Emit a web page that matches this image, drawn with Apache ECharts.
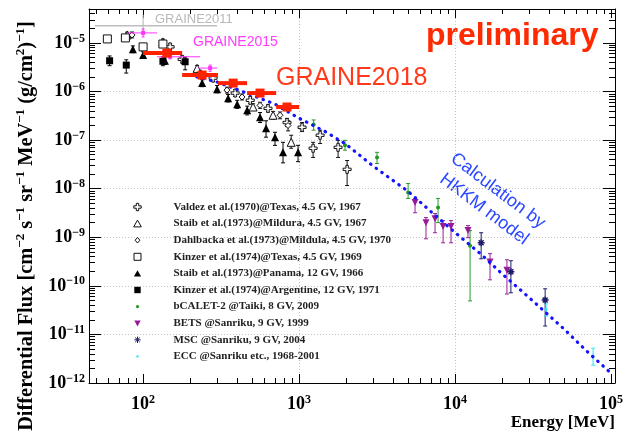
<!DOCTYPE html>
<html>
<head>
<meta charset="utf-8">
<script src="https://cdn.jsdelivr.net/npm/echarts@6/dist/echarts.min.js"></script>
<style>
  html, body { margin: 0; padding: 0; background: #fff; }
  #chart { width: 625px; height: 432px; }
</style>
</head>
<body>
<div id="chart"></div>
<script>
// ---------------- axis ranges and tick labels ----------------
const energyMin = 45, energyMax = 1.06e5;
const fluxMin = 1e-12, fluxMax = 5e-5;
const energyDecades = [100, 1000, 10000, 100000];
const fluxDecades = [1e-12, 1e-11, 1e-10, 1e-9, 1e-8, 1e-7, 1e-6, 1e-5];

// ---------------- HKKM calculation ----------------
const hkkmEnergy = [200, 300, 500, 700, 1000, 1500, 2000, 3000, 5000, 7000, 10000, 15000, 20000, 30000, 50000, 70000, 100000];
const hkkmFlux = [2.18e-6, 1.56e-6, 8.4e-7, 5.5e-7, 2.82e-7, 1.45e-7, 8.2e-8, 2.88e-8, 8.8e-9, 3.38e-9, 1.25e-9, 4.2e-10, 1.77e-10, 5.65e-11, 1.29e-11, 4.5e-12, 1.59e-12];

// ---------------- GRAINE flights ----------------
const graine2018Energy = [142, 239, 378, 562, 837];
const graine2018Flux = [6.2e-6, 2.18e-6, 1.49e-6, 9.3e-7, 4.8e-7];
const graine2018FluxLow = [5.7e-6, 2.0e-6, 1.37e-6, 8.5e-7, 4.4e-7];
const graine2018FluxHigh = [6.7e-6, 2.37e-6, 1.62e-6, 1.01e-6, 5.2e-7];
const graine2018EnergyLow = [100, 178, 302, 464, 713];
const graine2018EnergyHigh = [178, 302, 464, 713, 1000];

const graine2015Energy = [100, 149, 269];
const graine2015Flux = [1.61e-5, 5.2e-6, 3.04e-6];
const graine2015FluxLow = [1.33e-5, 4.7e-6, 2.6e-6];
const graine2015FluxHigh = [1.94e-5, 5.8e-6, 3.5e-6];
const graine2015EnergyLow = [80, 123, 225];
const graine2015EnergyHigh = [123, 232, 298];

const graine2011Energy = [100];
const graine2011Flux = [2.25e-5];
const graine2011FluxLow = [1.69e-5];
const graine2011FluxHigh = [3.8e-5];
const graine2011EnergyLow = [49];
const graine2011EnergyHigh = [298];

// ---------------- earlier measurements ----------------
const valdezEnergy = [149, 178, 281, 389, 486, 632, 837, 1045, 1230, 1364, 1778, 2032];
const valdezFlux = [8.3e-6, 4.6e-6, 1.89e-6, 9.3e-7, 6.6e-7, 4.5e-7, 2.3e-7, 1.84e-7, 6.8e-8, 1.26e-7, 7.1e-8, 2.5e-8];
const valdezFluxLow = [7.1e-6, 3.9e-6, 1.6e-6, 7.9e-7, 5.6e-7, 3.8e-7, 1.9e-7, 1.5e-7, 4.4e-8, 8.5e-8, 4.4e-8, 1.16e-8];
const valdezFluxHigh = [9.6e-6, 5.4e-6, 2.2e-6, 1.09e-6, 7.8e-7, 5.3e-7, 2.8e-7, 2.3e-7, 9.0e-8, 1.6e-7, 9.9e-8, 3.8e-8];

const staibMilduraEnergy = [79, 134, 222, 507, 681, 890];
const staibMilduraFlux = [1.46e-5, 1.05e-5, 3.0e-6, 4.8e-7, 3.25e-7, 9.0e-8];
const staibMilduraFluxLow = [1.28e-5, 9.2e-6, 2.6e-6, 4.1e-7, 2.7e-7, 6.8e-8];
const staibMilduraFluxHigh = [1.66e-5, 1.2e-5, 3.45e-6, 5.6e-7, 3.9e-7, 1.26e-7];

const dahlbackaEnergy = [85, 232, 345, 431, 562, 755, 850];
const dahlbackaFlux = [1.46e-5, 2.4e-6, 1.07e-6, 7.7e-7, 5.2e-7, 3.25e-7, 2.0e-7];
const dahlbackaFluxLow = [1.27e-5, 2.1e-6, 9.3e-7, 6.7e-7, 4.5e-7, 2.75e-7, 1.55e-7];
const dahlbackaFluxHigh = [1.68e-5, 2.75e-6, 1.23e-6, 8.9e-7, 6.0e-7, 3.8e-7, 2.5e-7];

const kinzerTexasEnergy = [59, 77, 100, 134];
const kinzerTexasFlux = [1.21e-5, 1.27e-5, 8.3e-6, 9.5e-6];
const kinzerTexasFluxLow = [1.1e-5, 1.15e-5, 7.4e-6, 8.5e-6];
const kinzerTexasFluxHigh = [1.33e-5, 1.4e-5, 9.3e-6, 1.06e-5];

const staibPanamaEnergy = [86, 100, 138, 239, 298, 351, 401, 465, 562, 614, 701, 789, 985];
const staibPanamaFlux = [7.4e-6, 5.65e-6, 4.3e-6, 1.49e-6, 1.12e-6, 7.3e-7, 5.5e-7, 4.1e-7, 2.96e-7, 1.75e-7, 1.14e-7, 5.6e-8, 5.6e-8];
const staibPanamaFluxLow = [6.3e-6, 4.8e-6, 3.6e-6, 1.26e-6, 9.4e-7, 6.1e-7, 4.5e-7, 3.3e-7, 2.3e-7, 1.15e-7, 7.8e-8, 3.4e-8, 3.6e-8];
const staibPanamaFluxHigh = [8.7e-6, 6.6e-6, 5.1e-6, 1.75e-6, 1.33e-6, 8.7e-7, 6.6e-7, 5.0e-7, 3.7e-7, 2.5e-7, 1.45e-7, 9.0e-8, 7.8e-8];

const kinzerArgEnergy = [61, 78, 134, 186];
const kinzerArgFlux = [4.3e-6, 3.5e-6, 4.2e-6, 4.1e-6];
const kinzerArgFluxLow = [3.4e-6, 2.4e-6, 3.4e-6, 2.8e-6];
const kinzerArgFluxHigh = [5.4e-6, 4.5e-6, 5.2e-6, 5.1e-6];

const bcaletEnergy = [1240, 1970, 3160, 5000, 7780, 12480];
const bcaletFlux = [2.1e-7, 7.8e-8, 4.4e-8, 8.3e-9, 4.1e-9, 6.7e-10];
const bcaletFluxLow = [1.6e-7, 6.2e-8, 3.3e-8, 6.3e-9, 2.0e-9, 4.9e-11];
const bcaletFluxHigh = [2.6e-7, 9.9e-8, 5.6e-8, 1.28e-8, 6.3e-9, 1.37e-9];

const betsEnergy = [5540, 6510, 7440, 8380, 9420, 12100, 16750, 21500];
const betsFlux = [5.2e-9, 2.0e-9, 2.4e-9, 1.66e-9, 1.66e-9, 1.37e-9, 3.1e-10, 2.1e-10];
const betsFluxLow = [3.2e-9, 9.3e-10, 1.24e-9, 7.7e-10, 7.7e-10, 9.8e-10, 1.33e-10, 6.8e-11];
const betsFluxHigh = [6.3e-9, 2.54e-9, 3.08e-9, 2.2e-9, 2.2e-9, 1.74e-9, 4.6e-10, 3.44e-10];

const mscEnergy = [14700, 22800, 37800];
const mscFlux = [7.7e-10, 1.95e-10, 5.1e-11];
const mscFluxLow = [3.6e-10, 7.2e-11, 1.49e-11];
const mscFluxHigh = [1.24e-9, 3.29e-10, 8.7e-11];

const eccEnergy = [38300, 76700];
const eccFlux = [3.3e-11, 3.6e-12];
const eccFluxLow = [2.4e-11, 2.33e-12];
const eccFluxHigh = [4.25e-11, 5.2e-12];

// ---------------- helpers ----------------
const SERIF = 'Liberation Serif, Times New Roman, serif';
const SANS = 'Liberation Sans, Arial, Helvetica, sans-serif';

function minorValues(lo, hi) {
  const out = [];
  for (let d = Math.floor(Math.log10(lo)); d <= Math.ceil(Math.log10(hi)); d++) {
    for (let m = 2; m <= 9; m++) {
      const v = m * Math.pow(10, d);
      if (v > lo * 1.0001 && v < hi * 0.9999) out.push(v);
    }
  }
  return out;
}
const energyMinor = minorValues(energyMin, energyMax);
const fluxMinor = minorValues(fluxMin, fluxMax);

function powerLabel(v) {
  const e = Math.round(Math.log10(v));
  return '{b|10}{s|' + (e < 0 ? '\u2212' + (-e) : e) + '}';
}
const powerRich = {
  b: { fontFamily: SERIF, fontWeight: 'bold', fontSize: 18, lineHeight: 21, color: '#000' },
  s: { fontFamily: SERIF, fontWeight: 'bold', fontSize: 12, lineHeight: 12, verticalAlign: 'top', color: '#000' }
};

function frameAxis(position, min, max, ticks, len, withLine) {
  return {
    type: 'log', logBase: 10, position: position, min: min, max: max,
    axisLine: { show: withLine, onZero: false, lineStyle: { color: '#000', width: 1 } },
    axisTick: { show: true, inside: true, length: len, customValues: ticks, lineStyle: { color: '#000', width: 1 } },
    axisLabel: { show: false },
    splitLine: { show: false },
    minorTick: { show: false }
  };
}

function errorRenderer(cfg) {
  return function (params, api) {
    const e = api.value(0), f = api.value(1);
    const lo = api.coord([e, api.value(2)]);
    const hi = api.coord([e, api.value(3)]);
    const st = { stroke: cfg.color, lineWidth: cfg.barWidth || 1 };
    const cap = cfg.cap === undefined ? 2 : cfg.cap;
    const kids = [{ type: 'line', shape: { x1: lo[0], y1: lo[1], x2: hi[0], y2: hi[1] }, style: st }];
    if (cap > 0) {
      kids.push({ type: 'line', shape: { x1: lo[0] - cap, y1: lo[1], x2: lo[0] + cap, y2: lo[1] }, style: st });
      kids.push({ type: 'line', shape: { x1: hi[0] - cap, y1: hi[1], x2: hi[0] + cap, y2: hi[1] }, style: st });
    }
    if (cfg.eLow) {
      const l = api.coord([api.value(4), f]);
      const r = api.coord([api.value(5), f]);
      kids.push({ type: 'line', shape: { x1: l[0], y1: l[1], x2: r[0], y2: r[1] },
                  style: { stroke: cfg.color, lineWidth: cfg.xBarWidth || 1 } });
    }
    return { type: 'group', children: kids };
  };
}

const series = [];
function addMeasurement(cfg) {
  series.push({
    type: 'custom', xAxisIndex: 0, yAxisIndex: 0, clip: true, silent: true, z: cfg.z || 2,
    encode: { x: 0, y: 1 },
    data: cfg.energy.map((e, i) => [e, cfg.flux[i], cfg.low[i], cfg.high[i],
      cfg.eLow ? cfg.eLow[i] : e, cfg.eHigh ? cfg.eHigh[i] : e]),
    renderItem: errorRenderer(cfg)
  });
  if (cfg.symbol) {
    series.push({
      type: 'scatter', name: cfg.name, xAxisIndex: 0, yAxisIndex: 0, z: (cfg.z || 2) + 0.5,
      symbol: cfg.symbol, symbolSize: cfg.size, symbolRotate: cfg.rotate || 0,
      itemStyle: cfg.itemStyle, silent: true,
      data: cfg.energy.map((e, i) => [e, cfg.flux[i]])
    });
  }
}

const crossSymbol = 'path://M3.5,0H6.5V3.5H10V6.5H6.5V10H3.5V6.5H0V3.5H3.5Z';
const starSymbol = 'path://M5,0V10M0,5H10M1.5,1.5L8.5,8.5M8.5,1.5L1.5,8.5';
const openStyle = { color: '#fff', borderColor: '#111', borderWidth: 1, opacity: 1 };

addMeasurement({ name: 'Valdez et al.(1970)@Texas, 4.5 GV, 1967', energy: valdezEnergy, flux: valdezFlux,
  low: valdezFluxLow, high: valdezFluxHigh, color: '#111', symbol: crossSymbol, size: 8, itemStyle: openStyle });
addMeasurement({ name: 'Staib et al.(1973)@Mildura, 4.5 GV, 1967', energy: staibMilduraEnergy, flux: staibMilduraFlux,
  low: staibMilduraFluxLow, high: staibMilduraFluxHigh, color: '#111', symbol: 'triangle', size: 8, itemStyle: openStyle });
addMeasurement({ name: 'Dahlbacka et al.(1973)@Mildula, 4.5 GV, 1970', energy: dahlbackaEnergy, flux: dahlbackaFlux,
  low: dahlbackaFluxLow, high: dahlbackaFluxHigh, color: '#111', symbol: 'diamond', size: 6, itemStyle: openStyle });
addMeasurement({ name: 'Kinzer et al.(1974)@Texas, 4.5 GV, 1969', energy: kinzerTexasEnergy, flux: kinzerTexasFlux,
  low: kinzerTexasFluxLow, high: kinzerTexasFluxHigh, color: '#111', symbol: 'rect', size: 8, itemStyle: openStyle });
addMeasurement({ name: 'Staib et al.(1973)@Panama, 12 GV, 1966', energy: staibPanamaEnergy, flux: staibPanamaFlux,
  low: staibPanamaFluxLow, high: staibPanamaFluxHigh, color: '#000', symbol: 'triangle', size: 8,
  itemStyle: { color: '#000', opacity: 1 } });
addMeasurement({ name: 'Kinzer et al.(1974)@Argentine, 12 GV, 1971', energy: kinzerArgEnergy, flux: kinzerArgFlux,
  low: kinzerArgFluxLow, high: kinzerArgFluxHigh, color: '#000', symbol: 'rect', size: 7,
  itemStyle: { color: '#000', opacity: 1 } });
addMeasurement({ name: 'bCALET-2 @Taiki, 8 GV, 2009', energy: bcaletEnergy, flux: bcaletFlux,
  low: bcaletFluxLow, high: bcaletFluxHigh, color: '#2a9a2a', symbol: 'circle', size: 4, z: 3,
  itemStyle: { color: '#1f9a1f', opacity: 1 } });
addMeasurement({ name: 'BETS @Sanriku, 9 GV, 1999', energy: betsEnergy, flux: betsFlux,
  low: betsFluxLow, high: betsFluxHigh, color: '#9a1f9a', symbol: 'triangle', size: 7, rotate: 180, z: 3,
  itemStyle: { color: '#991a99', opacity: 1 } });
addMeasurement({ name: 'MSC @Sanriku, 9 GV, 2004', energy: mscEnergy, flux: mscFlux,
  low: mscFluxLow, high: mscFluxHigh, color: '#1d1d6a', symbol: starSymbol, size: 7, z: 3,
  itemStyle: { color: '#1d1d6a', borderColor: '#1d1d6a', borderWidth: 1.5, opacity: 1 } });
addMeasurement({ name: 'ECC @Sanriku etc., 1968-2001', energy: eccEnergy, flux: eccFlux,
  low: eccFluxLow, high: eccFluxHigh, color: '#2ee6f0', symbol: 'circle', size: 3, z: 3,
  itemStyle: { color: '#2ee6f0', opacity: 1 } });

// HKKM model curve
series.push({
  type: 'line', name: 'HKKM', xAxisIndex: 0, yAxisIndex: 0, z: 4, silent: true,
  symbol: 'none', smooth: false,
  lineStyle: { color: '#1414ff', width: 3.2, type: [0.5, 6.5], cap: 'round' },
  data: hkkmEnergy.map((e, i) => [e, hkkmFlux[i]])
});

// GRAINE results
addMeasurement({ energy: graine2011Energy, flux: graine2011Flux, low: graine2011FluxLow, high: graine2011FluxHigh,
  eLow: graine2011EnergyLow, eHigh: graine2011EnergyHigh, color: '#bdbdbd', cap: 0, z: 5, barWidth: 1.2, xBarWidth: 1.5 });
addMeasurement({ name: 'GRAINE2015', energy: graine2015Energy, flux: graine2015Flux, low: graine2015FluxLow, high: graine2015FluxHigh,
  eLow: graine2015EnergyLow, eHigh: graine2015EnergyHigh, color: '#ff33ff', cap: 1.5, z: 5,
  symbol: 'rect', size: 4, itemStyle: { color: '#ff33ff', opacity: 1 } });
addMeasurement({ name: 'GRAINE2018', energy: graine2018Energy, flux: graine2018Flux, low: graine2018FluxLow, high: graine2018FluxHigh,
  eLow: graine2018EnergyLow, eHigh: graine2018EnergyHigh, color: '#ff2200', cap: 0, z: 6, barWidth: 2, xBarWidth: 4,
  symbol: 'rect', size: 9, itemStyle: { color: '#ff2200', opacity: 1 } });

// legend icons (padded so that small markers stay small)
const pad = 'M0,0M10,10';
const legendEntries = [
  { name: 'Valdez et al.(1970)@Texas, 4.5 GV, 1967', icon: 'path://' + pad + 'M3.8,1.3H6.2V3.8H8.7V6.2H6.2V8.7H3.8V6.2H1.3V3.8H3.8Z' },
  { name: 'Staib et al.(1973)@Mildura, 4.5 GV, 1967', icon: 'path://' + pad + 'M5,1.5L8.8,8.3H1.2Z' },
  { name: 'Dahlbacka et al.(1973)@Mildula, 4.5 GV, 1970', icon: 'path://' + pad + 'M5,2.2L7.4,5L5,7.8L2.6,5Z' },
  { name: 'Kinzer et al.(1974)@Texas, 4.5 GV, 1969', icon: 'path://' + pad + 'M1.5,1.5H8.5V8.5H1.5Z' },
  { name: 'Staib et al.(1973)@Panama, 12 GV, 1966', icon: 'path://' + pad + 'M5,1.8L8.6,8.2H1.4Z' },
  { name: 'Kinzer et al.(1974)@Argentine, 12 GV, 1971', icon: 'path://' + pad + 'M1.8,1.8H8.2V8.2H1.8Z' },
  { name: 'bCALET-2 @Taiki, 8 GV, 2009', icon: 'path://' + pad + 'M5,3.4A1.6,1.6,0,1,1,5,6.6A1.6,1.6,0,1,1,5,3.4Z' },
  { name: 'BETS @Sanriku, 9 GV, 1999', icon: 'path://' + pad + 'M1.8,2.2H8.2L5,8.2Z' },
  { name: 'MSC @Sanriku, 9 GV, 2004', icon: 'path://' + pad + 'M5,1.8V8.2M1.8,5H8.2M2.7,2.7L7.3,7.3M7.3,2.7L2.7,7.3' },
  { name: 'ECC @Sanriku etc., 1968-2001', icon: 'path://' + pad + 'M5,3.8A1.2,1.2,0,1,1,5,6.2A1.2,1.2,0,1,1,5,3.8Z' }
];

const yTitle = '{t|Differential Flux [cm}{s|\u22122}{t| s}{s|\u22121}{t| sr}{s|\u22121}{t| MeV}{s|\u22121}{t| (g/cm}{s|2}{t|)}{s|\u22121}{t|]}';

const chart = echarts.init(document.getElementById('chart'), null, { renderer: 'canvas' });
chart.setOption({
  animation: false,
  backgroundColor: '#fff',
  grid: { left: 89, right: 10, top: 9, bottom: 49, containLabel: false, outerBoundsMode: 'none' },
  xAxis: [
    {
      type: 'log', logBase: 10, position: 'bottom', min: energyMin, max: energyMax,
      axisLine: { show: true, onZero: false, lineStyle: { color: '#000', width: 1 } },
      axisTick: { show: true, inside: true, length: 9, customValues: energyDecades, lineStyle: { color: '#000' } },
      axisLabel: { show: true, customValues: energyDecades, margin: 11, formatter: powerLabel, rich: powerRich },
      splitLine: { show: true, showMinLine: false, showMaxLine: false, lineStyle: { color: '#c4c4c4', width: 1, type: [1, 2] } },
      minorTick: { show: false },
      name: 'Energy [MeV]', nameLocation: 'end', nameGap: 0, nameMoveOverlap: false,
      nameTextStyle: { fontFamily: SERIF, fontWeight: 'bold', fontSize: 17, color: '#000',
        align: 'right', verticalAlign: 'top', padding: [31, 0, 0, 0] }
    },
    frameAxis('bottom', energyMin, energyMax, energyMinor, 5, false),
    frameAxis('top', energyMin, energyMax, energyDecades, 9, true),
    frameAxis('top', energyMin, energyMax, energyMinor, 5, false)
  ],
  yAxis: [
    {
      type: 'log', logBase: 10, position: 'left', min: fluxMin, max: fluxMax,
      axisLine: { show: true, onZero: false, lineStyle: { color: '#000', width: 1 } },
      axisTick: { show: true, inside: true, length: 12, customValues: fluxDecades, lineStyle: { color: '#000' } },
      axisLabel: { show: true, customValues: fluxDecades, margin: 4, formatter: powerLabel, rich: powerRich },
      splitLine: { show: true, showMinLine: false, showMaxLine: false, lineStyle: { color: '#c4c4c4', width: 1, type: [1, 2] } },
      minorTick: { show: false }
    },
    frameAxis('left', fluxMin, fluxMax, fluxMinor, 6, false),
    frameAxis('right', fluxMin, fluxMax, fluxDecades, 12, true),
    frameAxis('right', fluxMin, fluxMax, fluxMinor, 6, false)
  ],
  legend: {
    orient: 'vertical', left: 132, top: 201, itemWidth: 62, itemHeight: 10, itemGap: 4.6,
    selectedMode: false, padding: 0,
    itemStyle: { borderWidth: 1 },
    textStyle: { fontFamily: SERIF, fontWeight: 'bold', fontSize: 11, lineHeight: 12, color: '#222' },
    data: legendEntries
  },
  graphic: [
    // flux axis title, read bottom to top
    { type: 'text', x: 27, y: 226, rotation: Math.PI / 2, silent: true,
      style: {
        text: yTitle, textAlign: 'center', textVerticalAlign: 'middle',
        rich: {
          t: { fontFamily: SERIF, fontWeight: 'bold', fontSize: 20.4, lineHeight: 25, fill: '#000' },
          s: { fontFamily: SERIF, fontWeight: 'bold', fontSize: 13, lineHeight: 13, verticalAlign: 'top', fill: '#000' }
        }
      } },
    { type: 'text', x: 155, y: 19, silent: true,
      style: { text: 'GRAINE2011', font: '13px ' + SANS, fill: '#b8b8b8', textAlign: 'left', textVerticalAlign: 'middle' } },
    { type: 'text', x: 193, y: 42, silent: true,
      style: { text: 'GRAINE2015', font: '14px ' + SANS, fill: '#ff3cff', textAlign: 'left', textVerticalAlign: 'middle' } },
    { type: 'text', x: 276, y: 78, silent: true,
      style: { text: 'GRAINE2018', font: '25px ' + SANS, fill: '#ff3a1a', textAlign: 'left', textVerticalAlign: 'middle' } },
    { type: 'text', x: 426, y: 36, silent: true,
      style: { text: 'preliminary', font: 'bold 32px ' + SANS, fill: '#ff2a00', textAlign: 'left', textVerticalAlign: 'middle' } },
    { type: 'text', x: 491, y: 200, rotation: -37 * Math.PI / 180, silent: true,
      style: { text: 'Calculation by\nHKKM model', font: '18px ' + SANS, lineHeight: 23, fill: '#2a48ff',
               textAlign: 'center', textVerticalAlign: 'middle' } }
  ],
  series: series
});
</script>
</body>
</html>
